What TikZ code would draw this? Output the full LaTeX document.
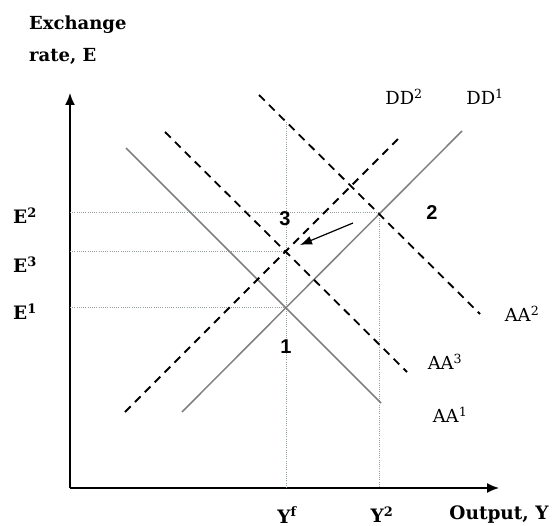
\documentclass[tikz,border=0pt]{standalone}
\usepackage{fontspec}
\setmainfont{DejaVu Serif}
\newfontfamily\ptfont{Liberation Sans}
\usetikzlibrary{arrows.meta}
\definecolor{curvegray}{RGB}{128,128,128}
\definecolor{guidegray}{RGB}{150,162,150}

\begin{document}
\begin{tikzpicture}
[x=1pt, y=-1pt, font=\fontsize{18}{22}\selectfont]

\tikzstyle{axis}=[line width=1.6pt, -{Latex[length=12pt,width=10pt]}]
\tikzstyle{solidcurve}=[line width=1.5pt, draw=curvegray]
\tikzstyle{dashcurve}=[line width=1.8pt, dash pattern=on 8pt off 6pt]
\tikzstyle{guide}=[line width=0.8pt, draw=guidegray, dash pattern=on 1pt off 1.2pt]
\tikzstyle{tag}=[inner sep=0pt]
\tikzstyle{axtag}=[inner sep=0pt, font=\fontsize{18.5}{22}\selectfont\bfseries]
\tikzstyle{pttag}=[inner sep=0pt, font=\fontsize{20}{24}\selectfont\ptfont\bfseries]

\useasboundingbox (0,0) rectangle (553,526);

% axes
\coordinate (O)    at (70,488);
\coordinate (ytop) at (70,93);
\coordinate (xend) at (499,488);
\draw[axis] (O) -- (ytop);
\draw[axis] (O) -- (xend);
\node[axtag, anchor=base west, align=left, font=\fontsize{18}{32}\selectfont\bfseries] (ylab) at (29,62) {Exchange\\rate, E};
\node[axtag] (xlab) at (499,515) {Output, Y};

% equilibrium points
\coordinate (P1) at (286,307);
\coordinate (P2) at (379,212);
\coordinate (P3) at (286,251);
\coordinate (Yf) at (286,488);
\coordinate (Y2) at (379,488);
\coordinate (Yftop) at (286,122);
\coordinate (E1) at (70,307);
\coordinate (E2) at (70,212);
\coordinate (E3) at (70,251);

% guide lines
\draw[guide] (E2) -- (P2) -- (Y2);
\draw[guide] (E3) -- (P3);
\draw[guide] (E1) -- (P1);
\draw[guide] (Yf) -- (Yftop);

% curves
\coordinate (AA1a) at (126,148);  \coordinate (AA1b) at (381,403);
\coordinate (DD1a) at (182,412);  \coordinate (DD1b) at (462,131);
\coordinate (AA2a) at (259,95);   \coordinate (AA2b) at (480,314);
\coordinate (DD2a) at (125,412);  \coordinate (DD2b) at (402,135);
\coordinate (AA3a) at (165,132);  \coordinate (AA3b) at (407,372);
\draw[solidcurve] (AA1a) -- (AA1b);
\draw[solidcurve] (DD1a) -- (DD1b);
\draw[dashcurve] (AA2a) -- (AA2b);
\draw[dashcurve] (DD2a) -- (DD2b);
\draw[dashcurve] (AA3a) -- (AA3b);

% shift arrow
\coordinate (arrA) at (353,223);
\coordinate (arrB) at (300,245);
\draw[line width=1.2pt, -{Latex[length=12pt,width=9pt]}] (arrA) -- (arrB);

% labels
\node[axtag] (lE2) at (25,216) {E\textsuperscript{2}};
\node[axtag] (lE3) at (25,265) {E\textsuperscript{3}};
\node[axtag] (lE1) at (25,312) {E\textsuperscript{1}};
\node[axtag] (lYf) at (287,515) {Y\textsuperscript{f}};
\node[axtag] (lY2) at (382,515) {Y\textsuperscript{2}};

\node[tag] (lDD2) at (404,97)  {DD\textsuperscript{2}};
\node[tag] (lDD1) at (485,97)  {DD\textsuperscript{1}};
\node[tag] (lAA2) at (522,314) {AA\textsuperscript{2}};
\node[tag] (lAA3) at (445,362) {AA\textsuperscript{3}};
\node[tag] (lAA1) at (450,415) {AA\textsuperscript{1}};

\node[pttag] (n1) at (286,347) {1};
\node[pttag] (n2) at (432,213) {2};
\node[pttag] (n3) at (285,219) {3};
\end{tikzpicture}
\end{document}
